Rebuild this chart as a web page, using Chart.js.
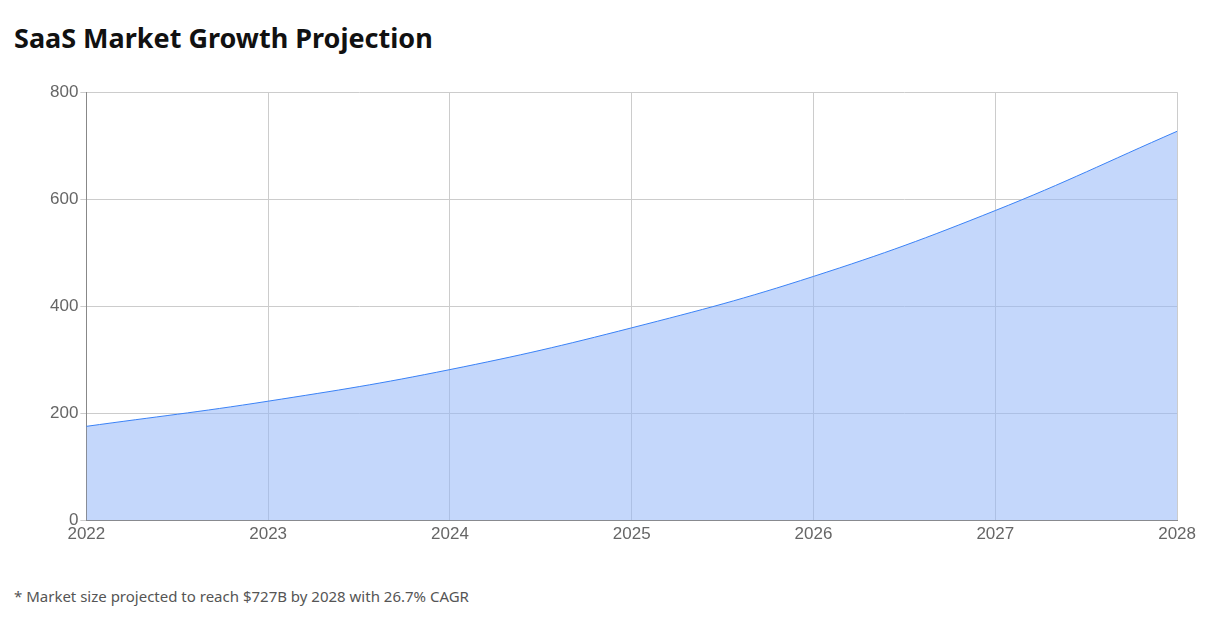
<!DOCTYPE html>
<html>
<head>
<meta charset="utf-8">
<script src="https://cdn.jsdelivr.net/npm/chart.js@4/dist/chart.umd.min.js"></script>
<style>
  body { margin: 0; background: #fff; font-family: "Noto Sans", "Open Sans", sans-serif; }
  h1 { position: absolute; left: 14px; top: 19px; margin: 0; font-size: 27px; font-weight: 700; color: #111; }
  #wrap { position: absolute; left: 48px; top: 80px; width: 1152px; height: 469px; }
  .note { position: absolute; left: 14px; top: 586px; font-size: 15px; color: #555; }
</style>
</head>
<body>
<h1>SaaS Market Growth Projection</h1>
<div id="wrap"><canvas id="c"></canvas></div>
<div class="note">* Market size projected to reach $727B by 2028 with 26.7% CAGR</div>
<script>
const years = ['2022', '2023', '2024', '2025', '2026', '2027', '2028'];
const marketSize = [176, 223, 282, 360, 456, 579, 727];
const yTicks = [0, 200, 400, 600, 800];

new Chart(document.getElementById('c'), {
  type: 'line',
  data: {
    labels: years,
    datasets: [{
      data: marketSize,
      borderColor: '#3b82f6',
      borderWidth: 1,
      backgroundColor: 'rgba(147,182,247,0.55)',
      fill: 'origin',
      tension: 0.4,
      pointRadius: 0
    }]
  },
  options: {
    responsive: true,
    maintainAspectRatio: false,
    animation: false,
    plugins: { legend: { display: false }, tooltip: { enabled: false } },
    scales: {
      x: {
        offset: false,
        grid: { color: '#ccc', tickLength: 0 },
        border: { color: '#888' },
        ticks: { color: '#666', font: { size: 17 }, padding: 4 }
      },
      y: {
        min: 0, max: 800,
        afterBuildTicks: s => { s.ticks = yTicks.map(v => ({ value: v })); },
        grid: { color: '#ccc', tickLength: 6 },
        border: { color: '#888' },
        ticks: { color: '#666', font: { size: 17 }, padding: 2 }
      }
    }
  },
  plugins: [{
    id: 'dash',
    beforeDraw(chart) {
      ['x', 'y'].forEach(k => {
        chart.options.scales[k].grid.borderDash = [4, 4];
      });
    }
  }]
});
</script>
</body>
</html>
